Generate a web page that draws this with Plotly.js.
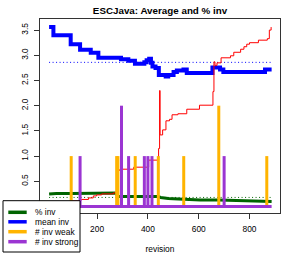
<!DOCTYPE html>
<html>
<head>
<meta charset="utf-8">
<script src="https://cdn.plot.ly/plotly-3.0.1.min.js"></script>
<style>html,body{margin:0;padding:0;background:#fff;}#chart{width:294px;height:254px;}</style>
</head>
<body>
<div id="chart"></div>
<script>
// ---- data ----
var pctInvRev = [11, 40, 100, 150, 200, 250, 276, 280, 320, 380, 440, 450, 480, 520, 560, 606, 680, 750, 820, 887];
var pctInvVal = [0.25, 0.26, 0.26, 0.26, 0.26, 0.26, 0.27, 0.20, 0.20, 0.20, 0.20, 0.18, 0.16, 0.15, 0.14, 0.13, 0.13, 0.12, 0.11, 0.10];
var pctInvMean = 0.18;

var meanInvRev = [11, 28, 96, 133, 175, 205, 294, 323, 349, 386, 395, 405, 412, 418, 430, 443, 470, 480, 501, 514, 540, 553, 654, 684, 697, 861, 887];
var meanInvVal = [3.56, 3.40, 3.22, 3.11, 3.05, 2.95, 2.92, 2.89, 2.83, 2.86, 2.90, 2.93, 2.85, 2.78, 2.75, 2.61, 2.58, 2.61, 2.67, 2.70, 2.72, 2.65, 2.76, 2.72, 2.67, 2.72, 2.72];
var meanInvMean = 2.86;

var cumRev = [11, 60, 100, 130, 140, 166, 185, 198, 218, 264, 273, 280, 284, 290, 344, 403, 442, 446, 448, 458, 471, 485, 495, 518, 553, 603, 656, 660, 664, 672, 688, 725, 738, 765, 778, 789, 800, 835, 870, 878, 885];
var cumVal = [0.02, 0.07, 0.11, 0.13, 0.14, 0.17, 0.21, 0.23, 0.25, 0.27, 0.28, 0.69, 0.72, 0.74, 0.78, 0.92, 1.15, 2.30, 1.42, 1.52, 1.70, 1.73, 1.82, 1.84, 1.93, 2.01, 2.28, 2.87, 2.80, 2.85, 2.95, 2.99, 3.06, 3.12, 3.17, 3.22, 3.25, 3.30, 3.33, 3.50, 3.56];

var weakRev = [98, 277, 282, 350, 441, 541, 679, 868];
var weakVal = [1, 1, 1, 1, 1, 1, 2, 1];

var strongRev = [133, 296, 324, 386, 400, 416, 700];
var strongVal = [1, 2, 1, 1, 1, 1, 1];
var strongBaseRev = [11, 887];
var strongBaseVal = [0, 0];

var legendLabels = ['% inv', 'mean inv', '# inv weak', '# inv strong'];
var xTicks = [200, 400, 600, 800];
var yTicks = [0.5, 1.0, 1.5, 2.0, 2.5, 3.0, 3.5];

// ---- styles ----
var cGreen = '#006400', cBlue = '#0000ff', cOrange = '#FFB400', cPurple = '#9B35D2', cRed = '#ff0000';
var FONT = 'Liberation Sans, Arial, Helvetica, sans-serif';

function spikes(rev, val) {
  var xs = [], ys = [];
  for (var i = 0; i < rev.length; i++) { xs.push(rev[i], rev[i], null); ys.push(0, val[i], null); }
  return {x: xs, y: ys};
}
var w = spikes(weakRev, weakVal);
var s = spikes(strongRev, strongVal);
var xMin = Math.min.apply(null, meanInvRev), xMax = Math.max.apply(null, meanInvRev);

var traces = [
  {x: pctInvRev, y: pctInvVal, mode: 'lines', line: {color: cGreen, width: 3}, hoverinfo: 'skip'},
  {x: [xMin, xMax], y: [pctInvMean, pctInvMean], mode: 'lines', line: {color: cGreen, width: 1, dash: '1px,2.5px'}, hoverinfo: 'skip'},
  {x: meanInvRev, y: meanInvVal, mode: 'lines', line: {color: cBlue, width: 4, shape: 'hv'}, hoverinfo: 'skip'},
  {x: [xMin, xMax], y: [meanInvMean, meanInvMean], mode: 'lines', line: {color: cBlue, width: 1, dash: '1px,2.5px'}, hoverinfo: 'skip'},
  {x: cumRev, y: cumVal, mode: 'lines', line: {color: cRed, width: 1, shape: 'hv'}, hoverinfo: 'skip'},
  {x: w.x, y: w.y, mode: 'lines', line: {color: cOrange, width: 3}, connectgaps: false, hoverinfo: 'skip'},
  {x: s.x, y: s.y, mode: 'lines', line: {color: cPurple, width: 3}, connectgaps: false, hoverinfo: 'skip'},
  {x: strongBaseRev, y: strongBaseVal, mode: 'lines', line: {color: cPurple, width: 3}, hoverinfo: 'skip'}
];

// legend drawn as paper shapes / annotations (plot area: x 40..280, y 19..213 px)
function px2x(p) { return (p - 40) / 240; }
function px2y(p) { return (213 - p) / 194; }
var legColors = [cGreen, cBlue, cOrange, cPurple];
var legY = [212.3, 221.8, 231.7, 241.7];
var shapes = [{type: 'rect', xref: 'paper', yref: 'paper', x0: px2x(3), x1: px2x(80), y0: px2y(252), y1: px2y(200.7),
  fillcolor: '#ffffff', line: {color: '#000000', width: 1}, layer: 'above'}];
var annotations = [];
for (var i = 0; i < legendLabels.length; i++) {
  shapes.push({type: 'line', xref: 'paper', yref: 'paper', x0: px2x(8.3), x1: px2x(26.7), y0: px2y(legY[i]), y1: px2y(legY[i]),
    line: {color: legColors[i], width: 3.5}, layer: 'above'});
  annotations.push({xref: 'paper', yref: 'paper', x: px2x(33), y: px2y(legY[i]), xanchor: 'left', yanchor: 'middle',
    text: legendLabels[i], showarrow: false, font: {family: FONT, size: 8.4, color: '#000'}});
}

var layout = {
  width: 294, height: 254,
  margin: {l: 40, r: 14, t: 19, b: 41},
  paper_bgcolor: '#ffffff', plot_bgcolor: '#ffffff',
  showlegend: false,
  font: {family: FONT, size: 8.4, color: '#000'},
  title: {text: '<b>ESCJava: Average and % inv</b>', font: {family: FONT, size: 9.8, color: '#000'},
    x: 0.5, xref: 'paper', y: 1 - 10.5 / 254, yref: 'container', yanchor: 'middle'},
  xaxis: {range: [-24.8, 920], tickvals: xTicks, ticktext: xTicks.map(String), ticks: 'outside', ticklen: 5, tickwidth: 1,
    tickcolor: '#333', showline: true, mirror: true, linecolor: '#333', linewidth: 1, showgrid: false, zeroline: false,
    tickfont: {family: FONT, size: 8.4, color: '#000'}, ticklabelstandoff: 3,
    title: {text: 'revision', font: {family: FONT, size: 8.4, color: '#000'}, standoff: 16}},
  yaxis: {range: [-0.129, 3.72], tickvals: yTicks, ticktext: yTicks.map(function (v) { return v.toFixed(1); }), ticks: 'outside', ticklen: 5, tickwidth: 1,
    tickcolor: '#333', showline: true, mirror: true, linecolor: '#333', linewidth: 1, showgrid: false, zeroline: false,
    tickangle: -90, tickfont: {family: FONT, size: 8.4, color: '#000'}, ticklabelstandoff: 3},
  shapes: shapes,
  annotations: annotations
};

Plotly.newPlot('chart', traces, layout, {staticPlot: true, displayModeBar: false});
</script>
</body>
</html>
